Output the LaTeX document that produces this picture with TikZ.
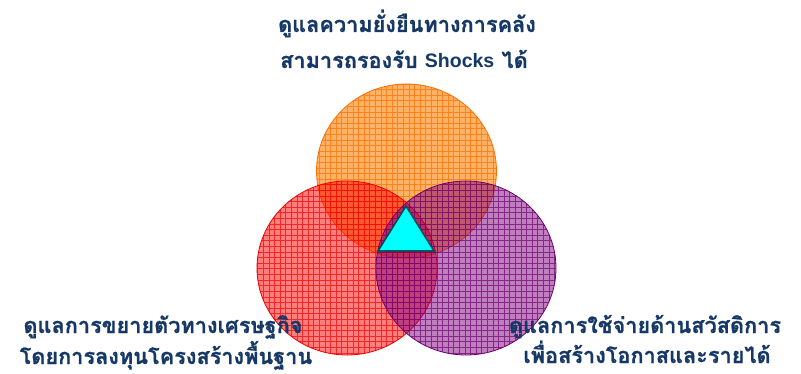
\documentclass[tikz,border=0pt]{standalone}
\usepackage{fontspec}
\usetikzlibrary{calc}
\setmainfont{Liberation Sans}
\newfontfamily\thaifont[Script=Thai, BoldFeatures={FakeBold=0.8}]{Loma}
\newfontfamily\latinbold{Liberation Sans}
\definecolor{txt}{RGB}{22,56,102}
\definecolor{orf}{RGB}{255,128,0}
\definecolor{orl}{RGB}{255,110,0}
\definecolor{rdf}{RGB}{255,0,0}
\definecolor{rdl}{RGB}{240,0,0}
\definecolor{ppf}{RGB}{128,0,128}
\definecolor{ppl}{RGB}{110,0,110}
\definecolor{tri}{RGB}{0,255,255}
\definecolor{trl}{RGB}{0,80,90}
\tikzset{
  lbl/.style={anchor=base, text=txt, font=\thaifont\bfseries\fontsize{21.7}{26}\selectfont, inner sep=0pt},
}
\newcommand{\vennset}[5]{%
  \begin{scope}
    \clip #1 ellipse [x radius=90, y radius=87];
    \fill[#2, opacity=#4] #1 ellipse [x radius=90, y radius=87];
    \draw[#3, line width=0.6pt, opacity=0.7] ($#1+(-95,-95)$) grid[step=5.6pt] ($#1+(95,95)$);
  \end{scope}
  \draw[#3, line width=0.8pt] #1 ellipse [x radius=90, y radius=87];
  \coordinate (#5) at #1;
}
\begin{document}
\begin{tikzpicture}[x=1pt,y=-1pt]
\useasboundingbox (0,0) rectangle (801,374);
\vennset{(406.5,171)}{orf}{orl}{0.6}{cO}
\vennset{(347,268)}{rdf}{rdl}{0.5}{cR}
\vennset{(466,268)}{ppf}{ppl}{0.5}{cP}
\coordinate (ta) at (406,206);
\coordinate (tb) at (378,251);
\coordinate (tc) at (434,251);
\draw[trl, fill=tri, line width=1.6pt] (ta) -- (tb) -- (tc) -- cycle;
\node[lbl] (t1) at (407,32) {ดูแลความยั่งยืนทางการคลัง};
\node[lbl] (t2) at (404,68) {สามารถรองรับ {\latinbold\bfseries\fontsize{19.5}{24}\selectfont Shocks} ได้};
\node[lbl] (l1) at (163,333) {ดูแลการขยายตัวทางเศรษฐกิจ};
\node[lbl] (l2) at (166,364) {โดยการลงทุนโครงสร้างพื้นฐาน};
\node[lbl] (r1) at (645,333) {ดูแลการใช้จ่ายด้านสวัสดิการ};
\node[lbl] (r2) at (647,363) {เพื่อสร้างโอกาสและรายได้};
\end{tikzpicture}
\end{document}
